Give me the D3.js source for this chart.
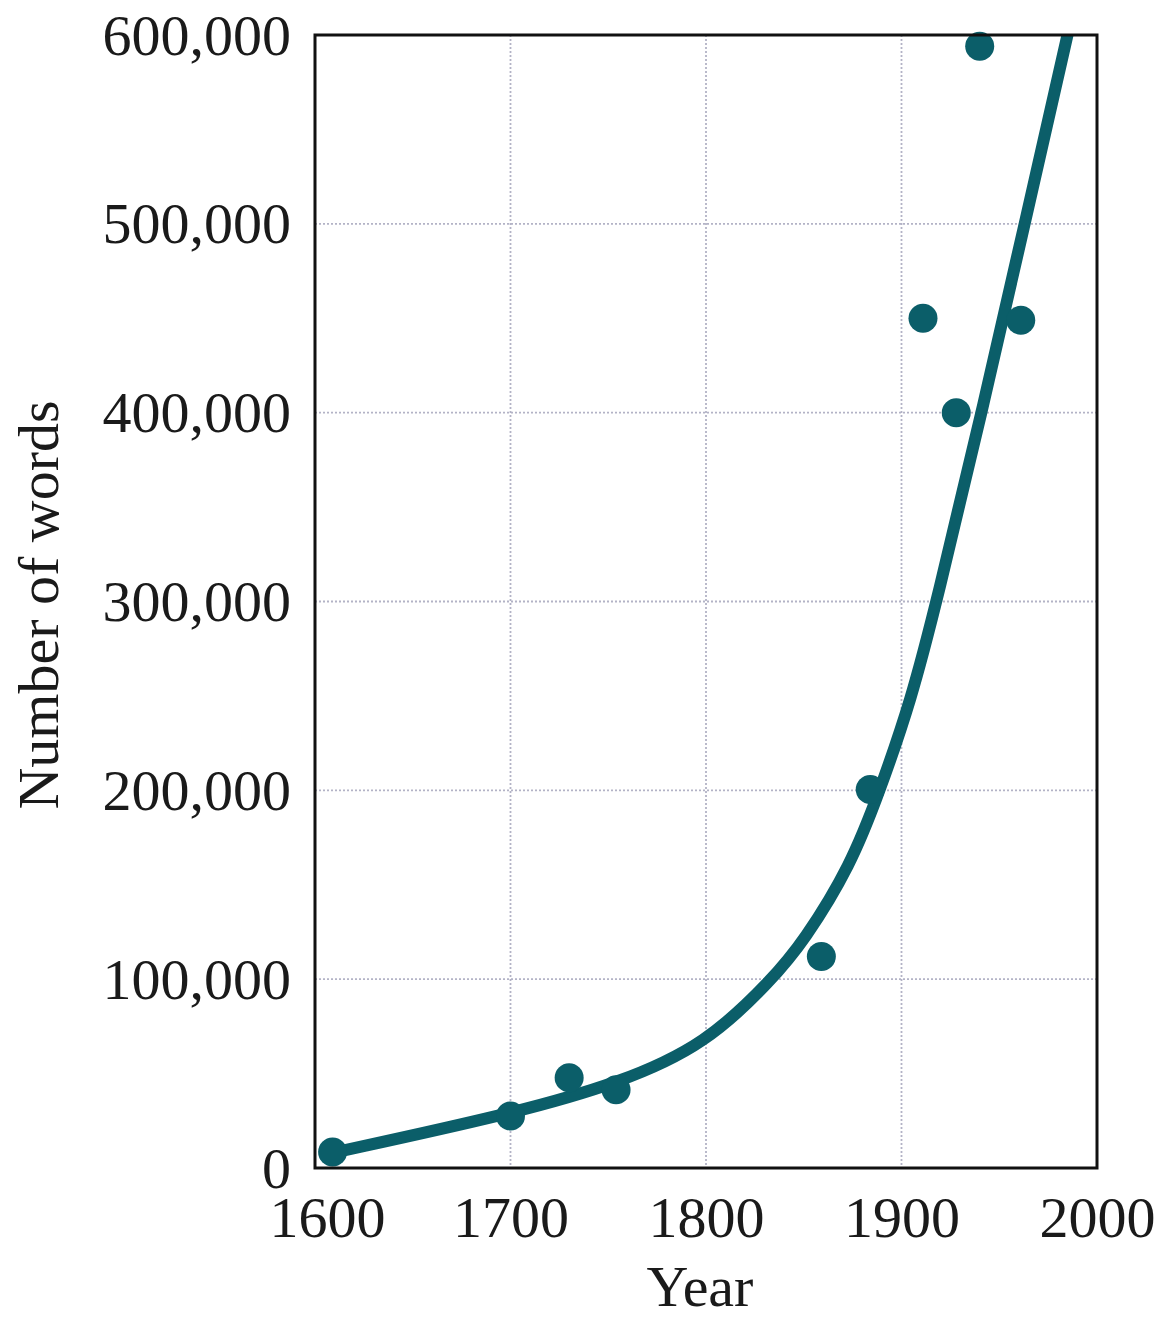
<!DOCTYPE html>
<html>
<head>
<meta charset="utf-8">
<script src="https://cdn.jsdelivr.net/npm/d3@7"></script>
<style>
  html, body { margin: 0; padding: 0; background: #fff; }
  svg { display: block; }
  .lbl text { font-family: "Liberation Serif", "DejaVu Serif", serif; fill: #1a1a1a; }
</style>
</head>
<body>
<svg id="chart" width="1163" height="1322"></svg>
<script>
// Data
const years = [1609, 1700, 1730, 1754, 1859, 1884, 1911, 1928, 1940, 1961];
const words = [8500, 27600, 47800, 41400, 112000, 200500, 450000, 400000, 594000, 449000];

// hand-drawn trend curve
const curveYears = [1609, 1700, 1756, 1800, 1834, 1850, 1874, 1889, 1905, 1918, 1941, 1963, 1986];
const curveWords = [8000, 28500, 45000, 65500, 100000, 120000, 160000, 200000, 248000, 300000, 400000, 500000, 605000];

const xTicks = [1600, 1700, 1800, 1900, 2000];
const yTicks = [0, 100000, 200000, 300000, 400000, 500000, 600000];

const svg = d3.select("#chart");
const L = 315, R = 1097, T = 35, B = 1168;

const x = d3.scaleLinear().domain([1600, 2000]).range([L, R]);
const y = d3.scaleLinear().domain([0, 600000]).range([B, T]);

const teal = "#0b5e69";
const fmt = d3.format(",");

// gridlines
const grid = svg.append("g");
grid.selectAll("line.gx").data(xTicks.slice(1, -1)).join("line")
  .attr("x1", d => x(d)).attr("x2", d => x(d))
  .attr("y1", T).attr("y2", B)
  .attr("stroke", "#b3b3c6").attr("stroke-width", 1.8)
  .attr("stroke-dasharray", "2,2");
grid.selectAll("line.gy").data(yTicks.slice(1, -1)).join("line")
  .attr("x1", L).attr("x2", R)
  .attr("y1", d => y(d)).attr("y2", d => y(d))
  .attr("stroke", "#b3b3c6").attr("stroke-width", 1.8)
  .attr("stroke-dasharray", "2,2");

// clip for the curve
svg.append("clipPath").attr("id", "clip").append("rect")
  .attr("x", L).attr("y", T).attr("width", R - L).attr("height", B - T);

// curve
const curveData = curveYears.map((yr, i) => [yr, curveWords[i]]);
svg.append("path")
  .datum(curveData)
  .attr("clip-path", "url(#clip)")
  .attr("fill", "none")
  .attr("stroke", teal)
  .attr("stroke-width", 12)
  .attr("stroke-linecap", "round")
  .attr("d", d3.line().x(d => x(d[0])).y(d => y(d[1])).curve(d3.curveBasis));

// points
svg.append("g").selectAll("circle")
  .data(years.map((yr, i) => [yr, words[i]]))
  .join("circle")
  .attr("cx", d => x(d[0])).attr("cy", d => y(d[1]))
  .attr("r", 14.5)
  .attr("fill", teal);

// frame
svg.append("rect")
  .attr("x", L).attr("y", T).attr("width", R - L).attr("height", B - T)
  .attr("fill", "none").attr("stroke", "#111").attr("stroke-width", 3);

// axes (labels only)
const xAxis = svg.append("g").attr("class", "lbl")
  .attr("transform", `translate(0,${B})`)
  .call(d3.axisBottom(x).tickValues(xTicks).tickSize(0).tickPadding(28).tickFormat(d3.format("d")));
xAxis.select(".domain").remove();
xAxis.selectAll("text").attr("font-size", 58).attr("dy", "0.71em")
  .attr("dx", d => d === 1600 ? 12 : 0);

const yAxis = svg.append("g").attr("class", "lbl")
  .attr("transform", `translate(${L},0)`)
  .call(d3.axisLeft(y).tickValues(yTicks).tickSize(0).tickPadding(24).tickFormat(fmt));
yAxis.select(".domain").remove();
yAxis.selectAll("text").attr("font-size", 58).attr("dy", "0.33em");

// axis titles
const titles = svg.append("g").attr("class", "lbl");
titles.append("text")
  .attr("x", (L + R) / 2 - 6).attr("y", 1306)
  .attr("text-anchor", "middle").attr("font-size", 58)
  .text("Year");
titles.append("text")
  .attr("transform", `translate(58,605) rotate(-90)`)
  .attr("text-anchor", "middle").attr("font-size", 58)
  .text("Number of words");
</script>
</body>
</html>
